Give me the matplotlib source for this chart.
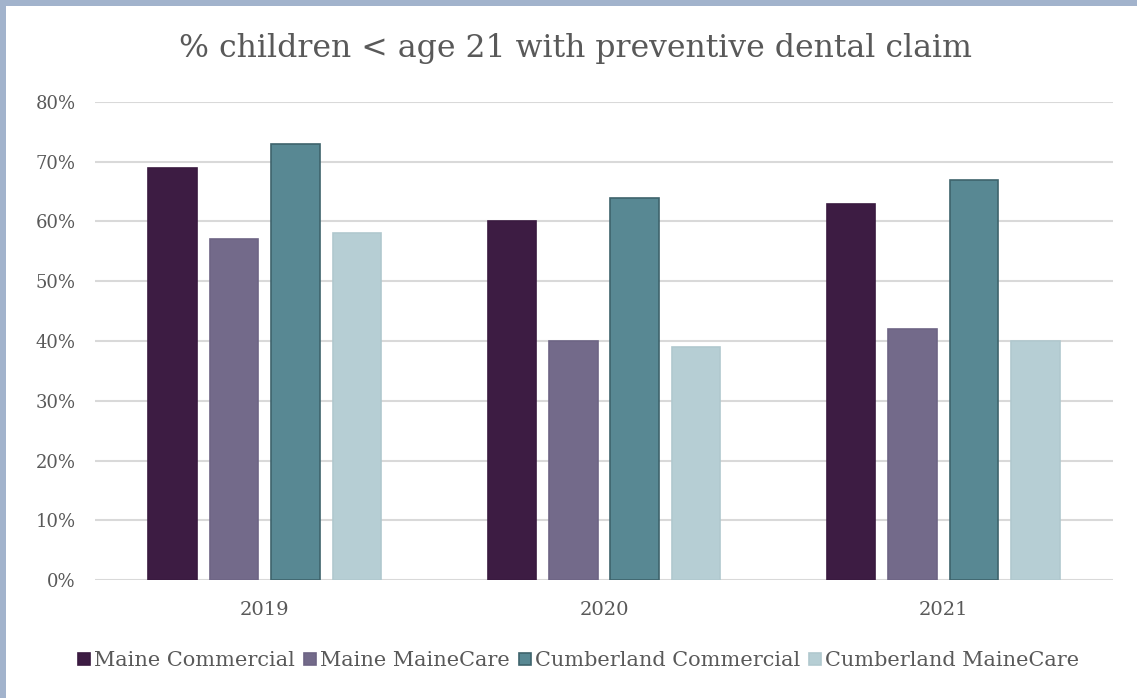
import numpy as np
import matplotlib.pyplot as plt
from matplotlib.patches import Rectangle
from matplotlib.ticker import FuncFormatter

# data
years = ['2019', '2020', '2021']
series = ['Maine Commercial', 'Maine MaineCare', 'Cumberland Commercial', 'Cumberland MaineCare']
maine_comm = [69, 60, 63]
maine_mc = [57, 40, 42]
cumb_comm = [73, 64, 67]
cumb_mc = [58, 39, 40]

colors = ['#3D1C43', '#736A8A', '#588893', '#B6CED4']
edges = ['#3A1A40', '#6E6585', '#3E636C', '#B0C8CE']
txt = '#595959'

plt.rcParams['font.family'] = ['DejaVu Serif']

fig = plt.figure(figsize=(11.37, 6.98), dpi=100)
ax = fig.add_axes([95 / 1137, 1 - 580 / 698, 1018 / 1137, 478 / 698])

# border of the frame (top and left only)
fig.patches.append(Rectangle((0, 1 - 6 / 698), 1, 6 / 698, transform=fig.transFigure,
                             facecolor='#A2B3CC', edgecolor='none', zorder=-1))
fig.patches.append(Rectangle((0, 0), 6 / 1137, 1, transform=fig.transFigure,
                             facecolor='#A2B3CC', edgecolor='none', zorder=-1))

x = np.arange(len(years))
w = 0.143
pitch = 0.181
vals = [maine_comm, maine_mc, cumb_comm, cumb_mc]
for i, v in enumerate(vals):
    ax.bar(x + (i - 1.5) * pitch, v, width=w, color=colors[i], edgecolor=edges[i],
           linewidth=1.2, label=series[i], zorder=3)

ax.set_xlim(-0.5, 2.5)
ax.set_ylim(0, 80)
ax.set_yticks(np.arange(0, 81, 10))
ax.yaxis.set_major_formatter(FuncFormatter(lambda v, p: '%d%%' % v))
ax.set_xticks(x)
ax.set_xticklabels(years)
ax.grid(axis='y', color='#D9D9D9', linewidth=1.5, zorder=0)
for s in ax.spines.values():
    s.set_visible(False)
ax.tick_params(length=0, colors=txt)
ax.tick_params(axis='y', pad=14, labelsize=13)
ax.tick_params(axis='x', pad=15, labelsize=14)

fig.text(0.506, 1 - 48 / 698, '% children < age 21 with preventive dental claim',
         ha='center', va='center', fontsize=22.7, color=txt)

leg = fig.legend(loc='center', bbox_to_anchor=(0.509, 1 - 661 / 698), ncol=4, frameon=False,
                 fontsize=15, handlelength=0.55, handleheight=0.55, handletextpad=0.2,
                 columnspacing=0.45, labelcolor=txt)

plt.savefig('out.png', dpi=100)
